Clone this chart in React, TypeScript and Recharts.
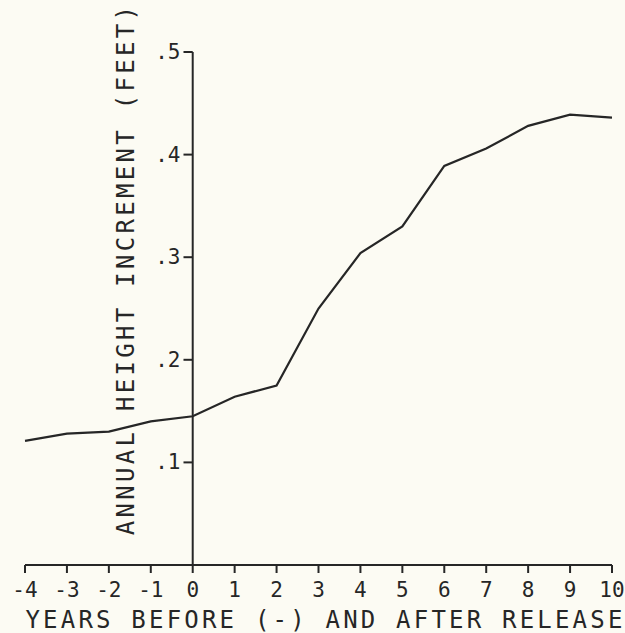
import React from 'react';
import { LineChart, Line, XAxis, YAxis, ReferenceLine } from 'recharts';

const years = [-4, -3, -2, -1, 0, 1, 2, 3, 4, 5, 6, 7, 8, 9, 10];
const increment = [0.121, 0.128, 0.13, 0.14, 0.145, 0.164, 0.175, 0.25, 0.304, 0.33, 0.389, 0.406, 0.428, 0.439, 0.436];
const yTicks = [0.1, 0.2, 0.3, 0.4, 0.5];
const yTickLabels = ['.1', '.2', '.3', '.4', '.5'];

const data = years.map((year, i) => ({ year, value: increment[i] }));

const INK = '#262626';
const FONT = '"DejaVu Sans Mono", "Liberation Mono", monospace';

export default function App() {
  return (
    <div style={{ position: 'absolute', left: 0, top: 0, width: 625, height: 633, background: '#fcfbf3' }}>
      <LineChart width={625} height={633} data={data} margin={{ top: 52, right: 13, bottom: 0, left: 25 }}>
        <XAxis
          dataKey="year"
          type="number"
          domain={[-4, 10]}
          ticks={years}
          interval={0}
          height={68}
          stroke={INK}
          strokeWidth={2}
          tickSize={8}
          tickMargin={9}
          tick={{ fill: INK, fontFamily: FONT, fontSize: 21 }}
          tickLine={{ stroke: INK, strokeWidth: 2 }}
          label={(props: any) => {
            const vb = props.viewBox;
            return (
              <text
                x={vb.x + vb.width / 2 + 7}
                y={vb.y + 63}
                textAnchor="middle"
                fill={INK}
                fontFamily={FONT}
                fontSize={24}
                letterSpacing={3.2}
              >
                YEARS BEFORE (-) AND AFTER RELEASE
              </text>
            );
          }}
        />
        <YAxis hide domain={[0, 0.5]} ticks={yTicks} />
        <ReferenceLine
          x={0}
          stroke={INK}
          strokeWidth={2}
          label={(props: any) => {
            const vb = props.viewBox;
            const cx = vb.x - 67;
            const cy = 269;
            return (
              <text
                x={cx}
                y={cy}
                transform={`rotate(-90 ${cx} ${cy})`}
                textAnchor="middle"
                dominantBaseline="central"
                fill={INK}
                fontFamily={FONT}
                fontSize={24}
                letterSpacing={3.3}
              >
                ANNUAL HEIGHT INCREMENT (FEET)
              </text>
            );
          }}
        />
        {yTicks.map((v, i) => (
          <ReferenceLine
            key={v}
            segment={[{ x: -0.22, y: v }, { x: 0, y: v }]}
            stroke={INK}
            strokeWidth={2}
            label={(props: any) => {
              const vb = props.viewBox;
              return (
                <text
                  x={vb.x - 3}
                  y={vb.y}
                  textAnchor="end"
                  dominantBaseline="central"
                  fill={INK}
                  fontFamily={FONT}
                  fontSize={21}
                >
                  {yTickLabels[i]}
                </text>
              );
            }}
          />
        ))}
        <Line
          dataKey="value"
          type="linear"
          stroke={INK}
          strokeWidth={2.2}
          dot={false}
          activeDot={false}
          isAnimationActive={false}
        />
      </LineChart>
    </div>
  );
}
